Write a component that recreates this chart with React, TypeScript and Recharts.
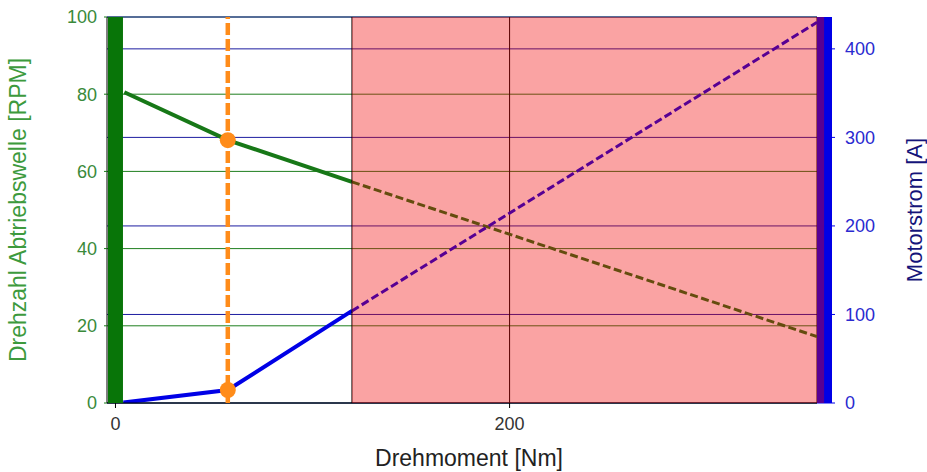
import React from 'react';
import {
  ComposedChart,
  Line,
  XAxis,
  YAxis,
  CartesianGrid,
  ReferenceLine,
  ReferenceArea,
  ReferenceDot,
} from 'recharts';

// ---- axes ----
const torqueTicks = [0, 200];
const speedTicks = [0, 20, 40, 60, 80, 100];
const currentTicks = [0, 100, 200, 300, 400];
const torqueDomain = [-4.3, 356];
const speedDomain = [0, 100];
const currentDomain = [0, 436];

// ---- series ----
const speedMeasured = [
  { torque: 4.5, rpm: 80.5 },
  { torque: 57, rpm: 68.1 },
  { torque: 120, rpm: 57.3 },
];
const speedExtrapolated = [
  { torque: 120, rpm: 57.3 },
  { torque: 356, rpm: 17.2 },
];
const currentMeasured = [
  { torque: 4, amp: 0.5 },
  { torque: 57, amp: 14.7 },
  { torque: 120, amp: 104 },
];
const currentExtrapolated = [
  { torque: 120, amp: 104 },
  { torque: 356, amp: 430 },
];

// ---- operating point / overload zone ----
const operatingTorque = 57;
const operatingSpeed = 68.1;
const operatingCurrent = 14.7;
const overloadStart = 120;

const GREEN = '#177817';
const BLUE = '#0000e6';
const ORANGE = '#ff8c1a';

export default function App() {
  return (
    <div
      style={{
        position: 'absolute',
        left: 0,
        top: 0,
        fontFamily: '"Liberation Sans", Arial, sans-serif',
      }}
    >
      <ComposedChart width={927} height={472} margin={{ top: 17, right: 0, bottom: 0, left: 0 }}>
        <CartesianGrid yAxisId="speed" vertical={false} stroke="#1f7f1f" strokeWidth={1} />
        <CartesianGrid yAxisId="current" vertical={false} stroke="#1c1ca0" strokeWidth={1} />
        <CartesianGrid yAxisId="speed" horizontal={false} stroke="#000" strokeWidth={1} />

        <XAxis
          dataKey="torque"
          type="number"
          domain={torqueDomain}
          ticks={torqueTicks}
          allowDataOverflow
          height={69}
          tickSize={5}
          tickMargin={9}
          axisLine={{ stroke: '#000' }}
          tickLine={{ stroke: '#000' }}
          tick={{ fill: '#333', fontSize: 18 }}
          label={{
            value: 'Drehmoment [Nm]',
            position: 'insideBottom',
            offset: 6,
            dx: 7,
            fill: '#222',
            fontSize: 23,
          }}
        />
        <YAxis
          yAxisId="speed"
          orientation="left"
          width={107}
          domain={speedDomain}
          ticks={speedTicks}
          allowDataOverflow
          tickSize={3}
          tickMargin={7}
          axisLine={false}
          tickLine={{ stroke: GREEN }}
          tick={{ fill: '#3a8a3a', fontSize: 18 }}
          label={{
            value: 'Drehzahl Abtriebswelle [RPM]',
            angle: -90,
            position: 'insideLeft',
            offset: 18,
            fill: '#3d9a3d',
            fontSize: 23,
            style: { textAnchor: 'middle' },
          }}
        />
        <YAxis
          yAxisId="current"
          orientation="right"
          width={110}
          domain={currentDomain}
          ticks={currentTicks}
          allowDataOverflow
          tickSize={18}
          tickMargin={10}
          axisLine={{ stroke: BLUE, strokeWidth: 15, transform: 'translate(7.5,0)' }}
          tickLine={{ stroke: BLUE }}
          tick={{ fill: '#2a2ad0', fontSize: 18 }}
          label={{
            value: 'Motorstrom [A]',
            angle: -90,
            position: 'insideRight',
            offset: 13,
            fill: '#14147a',
            fontSize: 22,
            style: { textAnchor: 'middle' },
          }}
        />

        <Line
          data={speedMeasured}
          dataKey="rpm"
          yAxisId="speed"
          type="linear"
          stroke={GREEN}
          strokeWidth={4}
          dot={false}
          activeDot={false}
          isAnimationActive={false}
        />
        <Line
          data={speedExtrapolated}
          dataKey="rpm"
          yAxisId="speed"
          type="linear"
          stroke={GREEN}
          strokeWidth={3}
          strokeDasharray="8 3.5"
          dot={false}
          activeDot={false}
          isAnimationActive={false}
        />
        <Line
          data={currentMeasured}
          dataKey="amp"
          yAxisId="current"
          type="linear"
          stroke={BLUE}
          strokeWidth={4}
          dot={false}
          activeDot={false}
          isAnimationActive={false}
        />
        <Line
          data={currentExtrapolated}
          dataKey="amp"
          yAxisId="current"
          type="linear"
          stroke={BLUE}
          strokeWidth={3}
          strokeDasharray="8 3.5"
          dot={false}
          activeDot={false}
          isAnimationActive={false}
        />

        <ReferenceLine x={overloadStart} yAxisId="speed" stroke="#000" strokeWidth={1} zIndex={450} />

        <ReferenceArea
          x1={overloadStart}
          x2={torqueDomain[1] + 3.6}
          y1={speedDomain[0]}
          y2={speedDomain[1]}
          yAxisId="speed"
          ifOverflow="visible"
          fill="#f00000"
          fillOpacity={0.36}
          stroke="none"
          zIndex={600}
        />

        <ReferenceLine x={0} yAxisId="speed" stroke="#087508" strokeWidth={15} zIndex={650} />

        <ReferenceLine
          x={operatingTorque}
          yAxisId="speed"
          stroke={ORANGE}
          strokeWidth={4.5}
          strokeDasharray="12 4"
          zIndex={700}
        />
        <ReferenceDot
          x={operatingTorque}
          y={operatingSpeed}
          yAxisId="speed"
          r={8}
          fill={ORANGE}
          stroke="none"
          zIndex={710}
        />
        <ReferenceDot
          x={operatingTorque}
          y={operatingCurrent}
          yAxisId="current"
          r={8}
          fill={ORANGE}
          stroke="none"
          zIndex={710}
        />
      </ComposedChart>
    </div>
  );
}
